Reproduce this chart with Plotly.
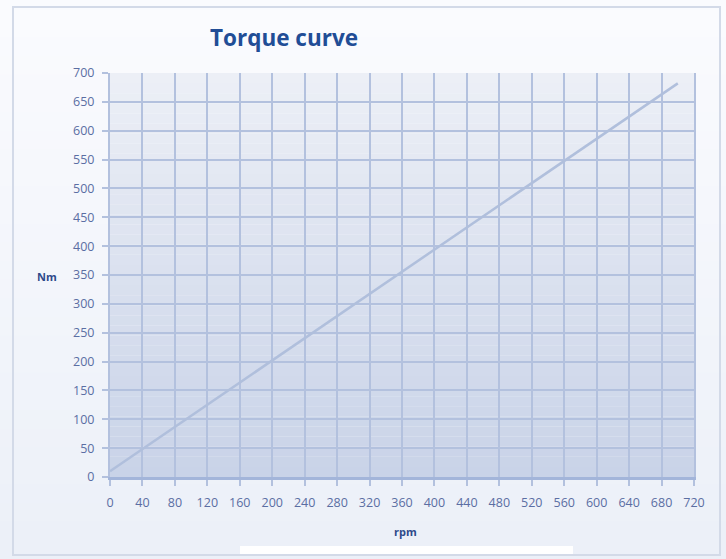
"""Torque curve: torque (Nm) against engine speed (rpm)."""

import plotly.graph_objects as go

# data
rpm = [0, 700]
torque = [10, 682]

x_ticks = list(range(0, 721, 40))
y_ticks = list(range(0, 701, 50))

TITLE = "Torque curve"
GRID = "#b3c1de"
TICK_FONT = dict(family="Open Sans", size=12.5, color="#5b6ea3")
LABEL_FONT = dict(family="Open Sans", size=11, color="#2d4a8a")


def blend(c0, c1, t):
    return "rgb(%d,%d,%d)" % tuple(round(c0[k] + (c1[k] - c0[k]) * t) for k in range(3))


fig = go.Figure()

fig.add_trace(go.Scatter(
    x=rpm, y=torque, mode="lines",
    line=dict(color="#b0bfdc", width=2.5),
    showlegend=False, hoverinfo="x+y",
))

# page background: white-ish at the top, faint lavender at the bottom
n_bands = 30
for i in range(n_bands):
    fig.add_shape(
        type="rect", xref="paper", yref="paper",
        x0=-110 / 584, x1=1 + 32 / 584,
        y0=-82 / 404 + i * (559 / 404) / n_bands,
        y1=-82 / 404 + (i + 1) * (559 / 404) / n_bands + 0.002,
        fillcolor=blend((236, 240, 248), (250, 251, 254), i / (n_bands - 1)),
        line=dict(width=0), layer="below",
    )

# vertical gradient behind the plot area (light at top, darker at bottom)
n_bands = 40
for i in range(n_bands):
    fig.add_shape(
        type="rect", xref="x domain", yref="y domain",
        x0=0, x1=1, y0=i / n_bands, y1=(i + 1) / n_bands,
        fillcolor=blend((201, 211, 232), (236, 239, 246), i / (n_bands - 1)),
        line=dict(width=0), layer="below",
    )

# outer card frame and the white strip under it
fig.add_shape(
    type="rect", xref="paper", yref="paper",
    x0=-97 / 584, x1=1 + 26 / 584, y0=-78 / 404, y1=1 + 66 / 404,
    line=dict(color="#d3dae8", width=2), fillcolor="rgba(0,0,0,0)", layer="below",
)
fig.add_shape(
    type="rect", xref="paper", yref="paper",
    x0=130 / 584, x1=463 / 584, y0=-77 / 404, y1=-69 / 404,
    line=dict(width=0), fillcolor="#ffffff", layer="below",
)

fig.add_annotation(
    text="<b>Nm</b>", xref="paper", yref="paper",
    x=-63 / 584, y=(477 - 276) / 404, xanchor="center", yanchor="middle",
    showarrow=False, font=LABEL_FONT,
)
fig.add_annotation(
    text="<b>rpm</b>", xref="paper", yref="paper",
    x=(405 - 110) / 584, y=-(531 - 477) / 404, xanchor="center", yanchor="middle",
    showarrow=False, font=LABEL_FONT,
)

fig.update_xaxes(
    range=[0, 720], tickvals=x_ticks, tickfont=TICK_FONT,
    showgrid=True, gridcolor=GRID, gridwidth=2,
    ticks="outside", ticklen=6, tickcolor=GRID, tickwidth=2,
    ticklabelstandoff=6,
    showline=True, linecolor="#a3b5da", linewidth=3, mirror=False,
    zeroline=False, fixedrange=True,
)
fig.update_yaxes(
    range=[0, 700], tickvals=y_ticks, tickfont=TICK_FONT,
    showgrid=True, gridcolor=GRID, gridwidth=2,
    ticks="outside", ticklen=6, tickcolor=GRID, tickwidth=2,
    ticklabelstandoff=5,
    showline=True, linecolor=GRID, linewidth=2, mirror=True,
    zeroline=False, fixedrange=True,
)

fig.update_layout(
    title=dict(
        text="<b>%s</b>" % TITLE, x=284 / 726, xanchor="center",
        y=1 - 38 / 559, yanchor="middle",
        font=dict(family="Open Sans", size=22.5, color="#214d96"),
    ),
    width=726, height=559,
    margin=dict(l=110, r=32, t=73, b=82),
    paper_bgcolor="#f2f5fa",
    plot_bgcolor="#e4e9f3",
)

# drop the default page margin so the figure sits at the window corner
fig.write_html(
    "out.html",
    config={"displayModeBar": False},
    post_script="document.body.style.margin='0';document.body.style.overflow='hidden';",
)
